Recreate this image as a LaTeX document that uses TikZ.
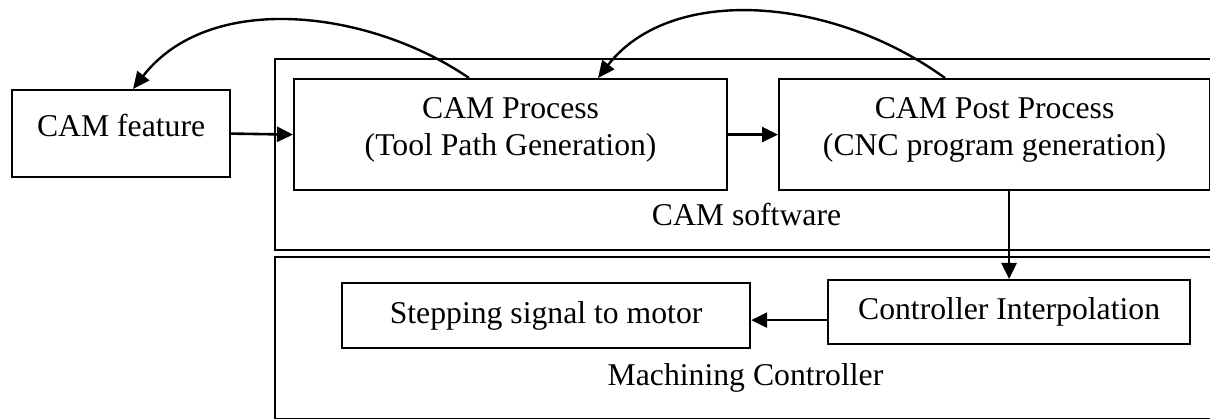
\documentclass[tikz,border=0pt]{standalone}
\usepackage{fontspec}
\setmainfont{Liberation Serif}
\usetikzlibrary{arrows.meta}
% two centred lines, lifted slightly inside their box
\newcommand{\twolines}[2]{\raisebox{4.5pt}[\height][\depth]{\begin{tabular}{@{}c@{}}#1\\#2\end{tabular}}}

\begin{document}
\begin{tikzpicture}[x=1pt, y=-1pt,
  every node/.style={font=\fontsize{31.7}{37}\selectfont, inner sep=0pt},
  box/.style={draw, line width=2.2pt, anchor=north west},
  frame/.style={line width=2pt},
  flow/.style={line width=2.6pt, -{Triangle[length=16pt, width=15pt]}},
  feedback/.style={line width=2.4pt, -{Triangle[length=17pt, width=15pt]}}]
\useasboundingbox (0,0) rectangle (1210,419);
\fill[white] (0,0) rectangle (1210,419);

% software and controller frames, open towards the right edge
\draw[frame] (1210,59.5) -| (275,250) -- (1210,250);
\draw[frame] (1210,257.5) -| (275,418.5) -- (1210,418.5);
\node[anchor=base] (camsw) at (746.5,226) {CAM software};
\node[anchor=base] (mach) at (745.5,386) {Machining Controller};

% process blocks
\node[box, minimum width=218pt, minimum height=87pt] (feat) at (11,89) {\twolines{CAM feature}{}};
\node[box, minimum width=433pt, minimum height=111pt] (proc) at (293,78) {\twolines{CAM Process}{(Tool Path Generation)}};
\node[box, minimum width=431pt, minimum height=111pt] (post) at (778,78) {\twolines{CAM Post Process}{(CNC program generation)}};
\node[box, minimum width=362pt, minimum height=64pt] (ctrl) at (827,279) {Controller Interpolation};
\node[box, minimum width=408pt, minimum height=65pt] (step) at (341,282) {Stepping signal to motor};

% forward flow
\draw[flow] (feat.east) -- (proc.west);
\draw[flow] (proc.east) -- (post.west);
\draw[flow] (ctrl.north |- post.south) -- (ctrl.north);
\coordinate (c1) at ([yshift=-8pt]ctrl.west);
\draw[flow] (c1) -- (c1 -| step.east);

% feedback loops
\draw[feedback] ([xshift=176pt]proc.north west) .. controls (370,10) and (210,-10) .. ([xshift=122pt]feat.north west);
\draw[feedback] ([xshift=167pt]post.north west) .. controls (830,-5) and (670,-15) .. ([xshift=305pt]proc.north west);
\end{tikzpicture}
\end{document}
